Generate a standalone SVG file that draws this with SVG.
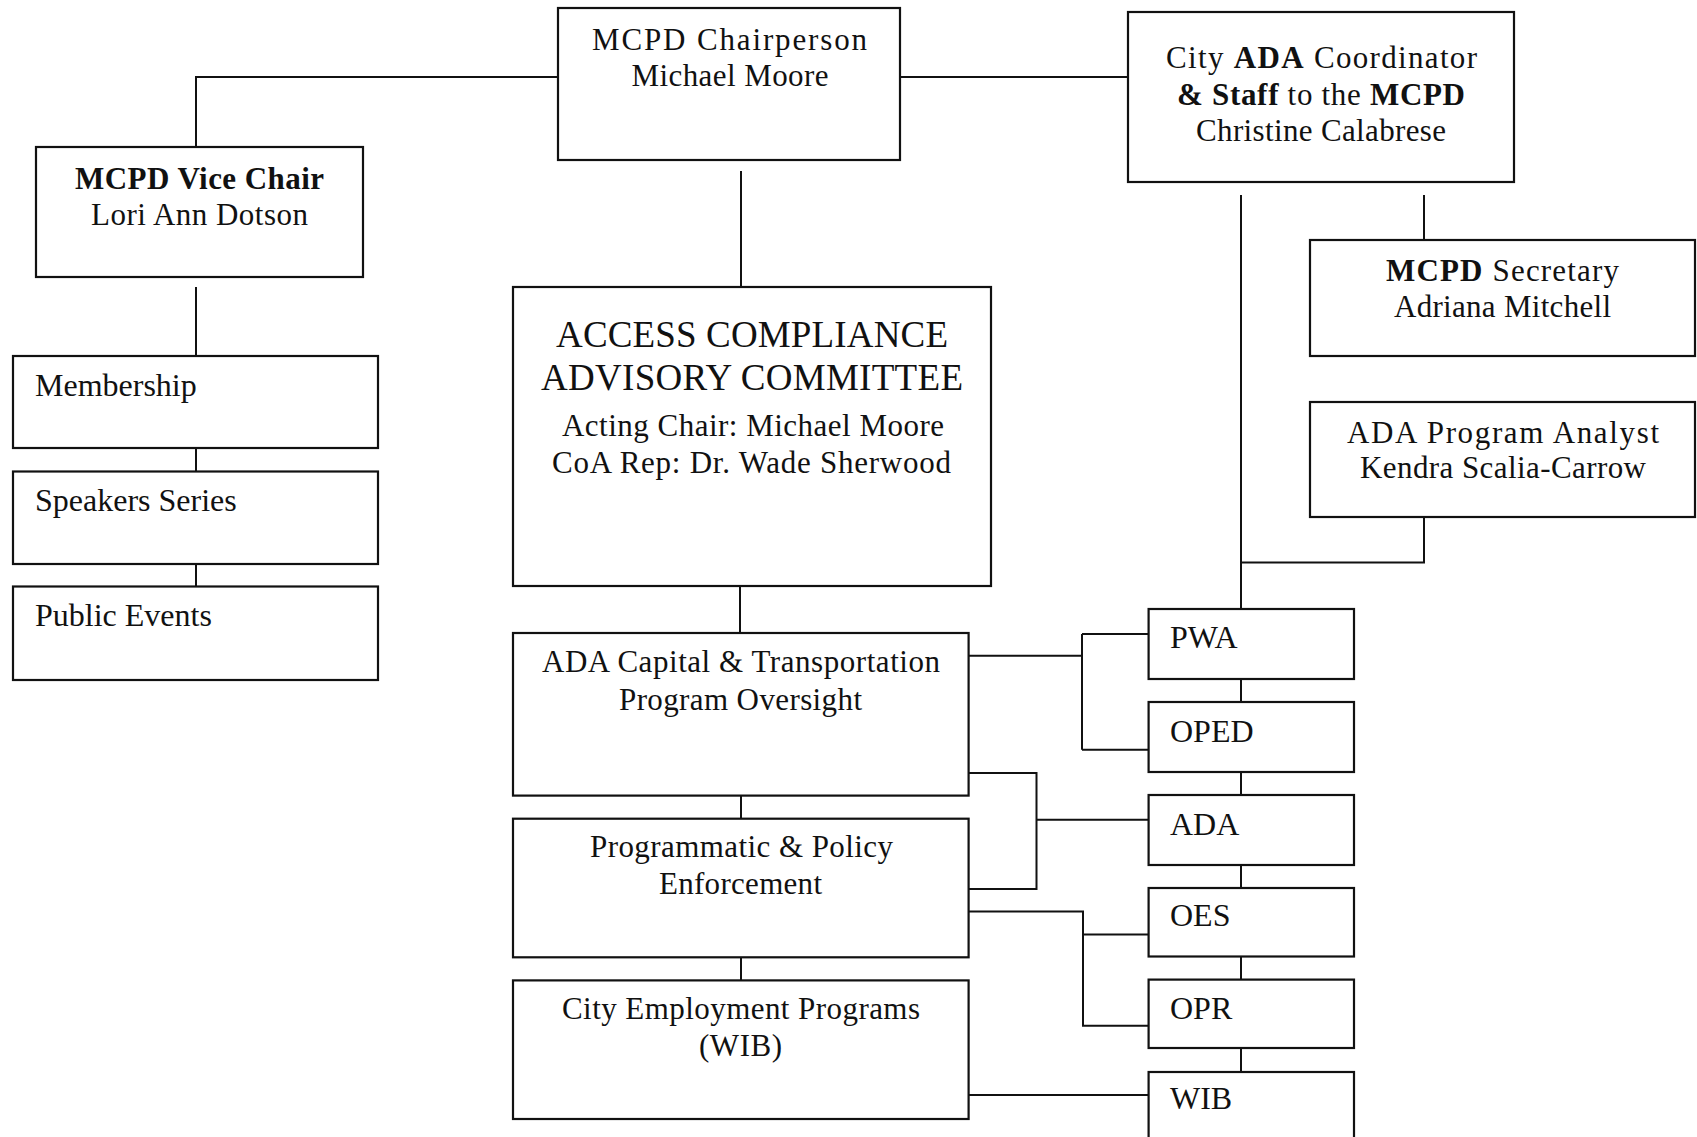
<svg xmlns="http://www.w3.org/2000/svg" width="1697" height="1137" viewBox="0 0 1697 1137">
<style>
.box{fill:#fff;stroke:#111;stroke-width:2.2}
.ln{fill:none;stroke:#111;stroke-width:2}
text{font-family:"Liberation Serif","Times New Roman",serif;font-size:31px;fill:#111}
.c{text-anchor:middle}
.l{font-size:32px}
.big{font-size:37px}
.b{font-weight:bold}
</style>
<rect width="1697" height="1137" fill="#fff"/>
<g id="connectors">
<path class="ln" d="M196 147 V77 H558"/>
<path class="ln" d="M900 77 H1128"/>
<path class="ln" d="M741 171 V287"/>
<path class="ln" d="M196 287 V356 M196 448 V471.5 M196 564 V586.5"/>
<path class="ln" d="M740 586 V633 M741 795.6 V818.7 M741 957.3 V980.4"/>
<path class="ln" d="M1241 195 V609"/>
<path class="ln" d="M1424 195 V240"/>
<path class="ln" d="M1424 517 V562.6 H1241"/>
<path class="ln" d="M1241 679 V702 M1241 772 V795 M1241 865 V888 M1241 956.5 V979.6 M1241 1048 V1072"/>
<path class="ln" d="M968.6 655.7 H1082 M1082 634 V749.8 M1082 634 H1148.6 M1082 749.8 H1148.6"/>
<path class="ln" d="M968.6 772.9 H1036.5 V889 H968.6 M1036.5 819.8 H1148.6"/>
<path class="ln" d="M968.6 911.4 H1083 V1025.8 H1148.6 M1083 934.5 H1148.6"/>
<path class="ln" d="M968.6 1095 H1148.6"/>
</g>
<g id="chair">
<rect class="box" x="558" y="8" width="342" height="152"/>
<text class="c" x="729.5" y="50" textLength="275" lengthAdjust="spacing">MCPD Chairperson</text>
<text class="c" x="730" y="86" textLength="197" lengthAdjust="spacing">Michael Moore</text>
</g>
<g id="vice-chair">
<rect class="box" x="36" y="147" width="327" height="130"/>
<text class="c b" x="199.5" y="189" textLength="249" lengthAdjust="spacing">MCPD Vice Chair</text>
<text class="c" x="199.5" y="225" textLength="217" lengthAdjust="spacing">Lori Ann Dotson</text>
</g>
<g id="coordinator">
<rect class="box" x="1128" y="12" width="386" height="170"/>
<text class="c" x="1321.5" y="68" textLength="311" lengthAdjust="spacing">City <tspan class="b">ADA</tspan> Coordinator</text>
<text class="c" x="1321" y="104.5" textLength="288" lengthAdjust="spacing"><tspan class="b">&amp; Staff</tspan> to the <tspan class="b">MCPD</tspan></text>
<text class="c" x="1321" y="141" textLength="250" lengthAdjust="spacing">Christine Calabrese</text>
</g>
<g id="secretary">
<rect class="box" x="1310" y="240" width="385" height="116"/>
<text class="c" x="1502.5" y="281" textLength="233" lengthAdjust="spacing"><tspan class="b">MCPD</tspan> Secretary</text>
<text class="c" x="1502.5" y="317" textLength="217" lengthAdjust="spacing">Adriana Mitchell</text>
</g>
<g id="analyst">
<rect class="box" x="1310" y="402" width="385" height="115"/>
<text class="c" x="1503" y="443" textLength="312" lengthAdjust="spacing">ADA Program Analyst</text>
<text class="c" x="1503" y="478" textLength="286" lengthAdjust="spacing">Kendra Scalia-Carrow</text>
</g>
<g id="membership">
<rect class="box" x="13" y="356" width="365" height="92"/>
<text class="l" x="35" y="396">Membership</text>
</g>
<g id="speakers">
<rect class="box" x="13" y="471.5" width="365" height="92.5"/>
<text class="l" x="35" y="511">Speakers Series</text>
</g>
<g id="public-events">
<rect class="box" x="13" y="586.5" width="365" height="93.5"/>
<text class="l" x="35" y="626">Public Events</text>
</g>
<g id="acac">
<rect class="box" x="513" y="287" width="478" height="299"/>
<text class="c big" x="752" y="347" textLength="392" lengthAdjust="spacing">ACCESS COMPLIANCE</text>
<text class="c big" x="752" y="390" textLength="422" lengthAdjust="spacing">ADVISORY COMMITTEE</text>
<text class="c" x="753" y="436" textLength="382" lengthAdjust="spacing">Acting Chair: Michael Moore</text>
<text class="c" x="751.5" y="472.5" textLength="399" lengthAdjust="spacing">CoA Rep: Dr. Wade Sherwood</text>
</g>
<g id="capital">
<rect class="box" x="513" y="633" width="455.6" height="162.6"/>
<text class="c" x="741" y="672" textLength="398" lengthAdjust="spacing">ADA Capital &amp; Transportation</text>
<text class="c" x="740.5" y="709.5" textLength="243" lengthAdjust="spacing">Program Oversight</text>
</g>
<g id="programmatic">
<rect class="box" x="513" y="818.7" width="455.6" height="138.6"/>
<text class="c" x="741.5" y="857" textLength="303" lengthAdjust="spacing">Programmatic &amp; Policy</text>
<text class="c" x="740.5" y="894" textLength="163" lengthAdjust="spacing">Enforcement</text>
</g>
<g id="employment">
<rect class="box" x="513" y="980.4" width="455.6" height="138.6"/>
<text class="c" x="741" y="1018.5" textLength="358" lengthAdjust="spacing">City Employment Programs</text>
<text class="c" x="740.5" y="1056" textLength="83" lengthAdjust="spacing">(WIB)</text>
</g>
<g id="pwa">
<rect class="box" x="1148.6" y="609" width="205.4" height="70"/>
<text class="l" x="1170" y="648">PWA</text>
</g>
<g id="oped">
<rect class="box" x="1148.6" y="702" width="205.4" height="70"/>
<text class="l" x="1170" y="741.5">OPED</text>
</g>
<g id="ada">
<rect class="box" x="1148.6" y="795" width="205.4" height="70"/>
<text class="l" x="1170" y="835">ADA</text>
</g>
<g id="oes">
<rect class="box" x="1148.6" y="888" width="205.4" height="68.5"/>
<text class="l" x="1170" y="926">OES</text>
</g>
<g id="opr">
<rect class="box" x="1148.6" y="979.6" width="205.4" height="68.4"/>
<text class="l" x="1170" y="1018.5">OPR</text>
</g>
<g id="wib">
<rect class="box" x="1148.6" y="1072" width="205.4" height="80"/>
<text class="l" x="1170" y="1109">WIB</text>
</g>
</svg>
